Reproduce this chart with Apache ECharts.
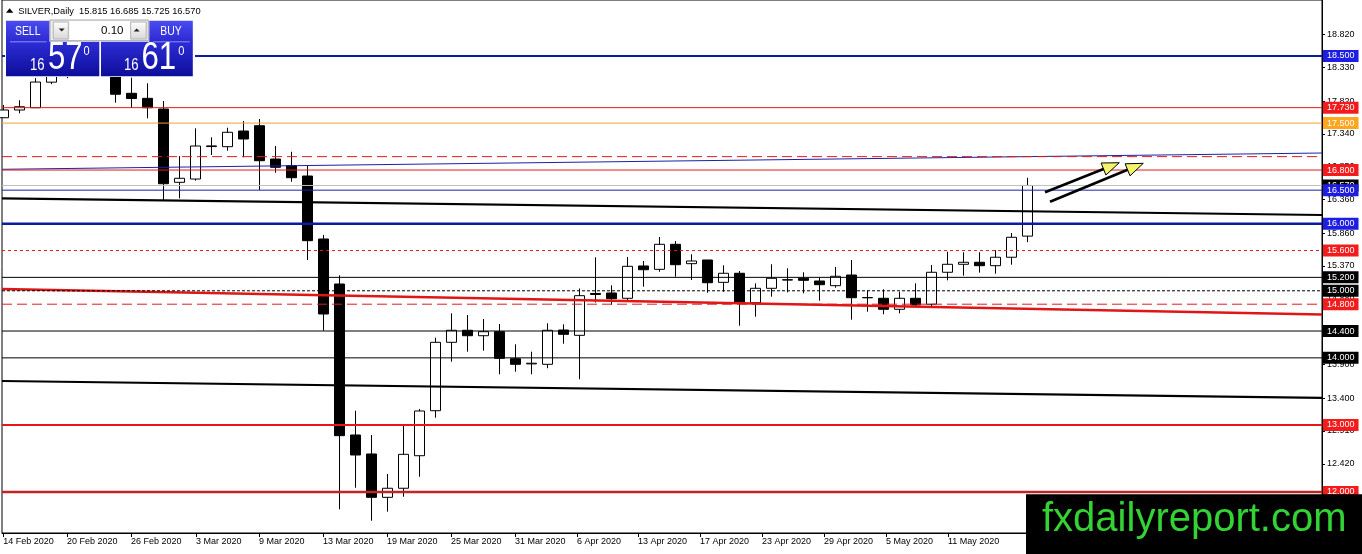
<!DOCTYPE html>
<html><head><meta charset="utf-8">
<script src="https://cdn.jsdelivr.net/npm/echarts@6/dist/echarts.min.js"></script>
<style>html,body{margin:0;padding:0;background:#fff}#c{width:1362px;height:554px}</style>
</head><body><div id="c"></div>
<script>
// ---------------- DATA ----------------
const opens  = [17.58,17.695,17.729,18.11,18.34,18.48,18.60,18.22,17.944,17.869,17.71,16.617,16.666,17.15,17.148,17.382,17.461,16.964,16.865,16.711,15.772,15.101,12.85,12.567,11.921,12.056,12.541,13.212,14.232,14.411,14.33,14.39,13.987,13.91,13.904,14.415,14.336,14.96,14.967,14.888,15.37,15.32,15.693,15.404,15.459,15.126,15.261,14.822,15.037,15.165,15.186,15.146,15.076,15.235,14.90,14.888,14.724,14.888,14.80,15.276,15.395,15.425,15.374,15.50,15.815];
const highs  = [17.77,17.84,18.17,18.42,18.58,18.72,18.66,18.32,18.177,18.093,17.829,17.009,17.422,17.288,17.431,17.531,17.561,17.158,17.073,16.865,15.832,15.231,13.212,12.85,12.269,12.989,13.238,14.301,14.664,14.639,14.579,14.505,14.202,14.092,14.515,14.5,15.034,15.499,15.082,15.504,15.444,15.802,15.742,15.544,15.46,15.38,15.295,15.111,15.395,15.335,15.276,15.195,15.355,15.459,15.007,15.022,14.986,15.111,15.384,15.583,15.574,15.574,15.604,15.861,16.685];
const lows   = [17.575,17.646,17.725,18.08,18.17,18.40,18.25,17.804,17.729,17.571,16.353,16.379,16.641,17.024,17.088,16.99,16.502,16.76,16.626,15.459,14.405,11.742,12.064,11.572,11.707,11.93,12.228,13.108,13.943,14.092,14.107,13.755,13.794,13.755,13.845,14.211,13.68,14.826,14.788,14.863,15.061,15.284,15.21,15.161,14.971,14.986,14.48,14.614,14.912,14.977,14.962,14.852,15.046,14.569,14.688,14.65,14.664,14.763,14.763,15.156,15.225,15.27,15.255,15.389,15.725];
const closes = [17.695,17.744,18.112,18.34,18.48,18.62,18.30,17.93,17.866,17.729,16.596,16.677,17.158,17.16,17.363,17.263,16.939,16.841,16.686,15.747,14.654,12.84,12.552,11.921,12.056,12.562,13.208,14.232,14.411,14.33,14.39,13.993,13.904,13.92,14.411,14.351,14.927,14.945,14.882,15.365,15.314,15.693,15.389,15.444,15.12,15.261,14.822,15.037,15.186,15.16,15.156,15.091,15.216,14.897,14.895,14.724,14.888,14.788,15.276,15.395,15.425,15.374,15.50,15.798,16.570];

const dateTickPos = [0,3.98,7.98,12.04,15.98,19.98,23.98,27.98,31.98,35.86,39.67,43.54,47.42,51.29,55.17,59.04];
const dateTickLabels = ['14 Feb 2020','20 Feb 2020','26 Feb 2020','3 Mar 2020','9 Mar 2020','13 Mar 2020','19 Mar 2020','25 Mar 2020','31 Mar 2020','6 Apr 2020','13 Apr 2020','17 Apr 2020','23 Apr 2020','29 Apr 2020','5 May 2020','11 May 2020'];
const priceTicks = [18.82,18.33,17.82,17.34,16.85,16.36,15.86,15.37,14.88,14.39,13.90,13.40,12.91,12.42,11.93];

const levelValues = [18.5,17.73,17.5,17.0,16.8,16.57,16.5,16.0,15.6,15.2,15.0,14.8,14.4,14.0,13.0,12.0];
const trendStart = [16.811,16.379,15.027,13.655];
const trendEnd   = [17.054,16.130,14.646,13.402];
const arrowFrom = [[65.11,16.468],[65.42,16.328]];
const arrowTo   = [[69.75,16.909],[71.25,16.900]];

const symbolName = 'SILVER,Daily';
const lotText = '0.10';
const sellBig = ['16','57','0'];
const buyBig  = ['16','61','0'];
const watermark = 'fxdailyreport.com';

// ---------------- STYLE / LAYOUT ----------------
const FONT = "'Liberation Sans', Arial, sans-serif";
const X_MIN = -0.081, X_MAX = 82.419, Y_MIN = 11.389, Y_MAX = 19.335;
const RED = '#e21b1b', BLUE = '#0c1aa6', LBLUE = '#1e1ee2', LRED = '#f21c1c';
const levelStyles = [
  {c:BLUE, w:2, t:'solid', bg:LBLUE},
  {c:RED, w:1, t:'solid', bg:LRED},
  {c:'#eea231', w:1, t:'solid', bg:'#ffa51e'},
  {c:RED, w:1, t:[10,5], bg:null},
  {c:RED, w:1, t:'solid', bg:LRED},
  {c:'#c0c0c0', w:1, t:'solid', bg:'#000'},
  {c:'#1a24aa', w:1, t:'solid', bg:LBLUE},
  {c:BLUE, w:2.5, t:'solid', bg:LBLUE},
  {c:RED, w:1, t:[3,3], bg:LRED},
  {c:'#000', w:1, t:'solid', bg:'#000'},
  {c:'#000', w:1, t:[3,2], bg:'#000'},
  {c:RED, w:1, t:[10,5], bg:LRED},
  {c:'#000', w:1, t:'solid', bg:'#000'},
  {c:'#000', w:1, t:'solid', bg:'#000'},
  {c:'#e81616', w:2, t:'solid', bg:LRED},
  {c:'#c22424', w:2.5, t:'solid', bg:LRED}
];
const trendStyles = [
  {c:'#1a22a8', w:1},
  {c:'#000', w:2.2},
  {c:'#e01616', w:2.5},
  {c:'#000', w:2.2}
];

const candles = opens.map((o,i)=>[i, o, closes[i], lows[i], highs[i]]);

const chart = echarts.init(document.getElementById('c'), null, {renderer:'canvas'});

const series = [{
  type:'candlestick', data:candles, barWidth:10, z:2, silent:true, clip:true,
  itemStyle:{color:'#fff', color0:'#000', borderColor:'#000', borderColor0:'#000', borderColorDoji:'#000', borderWidth:1}
}];
trendStart.forEach((v,i)=>{
  series.push({type:'line', data:[[X_MIN, v],[X_MAX, trendEnd[i]]], showSymbol:false, symbol:'none', silent:true, z:3,
    lineStyle:{color:trendStyles[i].c, width:trendStyles[i].w}});
});
levelValues.forEach((v,i)=>{
  const s = levelStyles[i];
  series.push({type:'line', data:[[X_MIN, v],[X_MAX, v]], showSymbol:false, symbol:'none', silent:true, z:4, clip:false,
    color:s.c,
    lineStyle:{color:s.c, width:s.w, type:s.t},
    endLabel: s.bg ? {show:true, distance:1, formatter:v.toFixed(3), color:'#fff', backgroundColor:s.bg,
      padding:[1,4,0,4], fontSize:9, lineHeight:11, fontFamily:FONT} : {show:false},
    labelLayout:{hideOverlap:false}
  });
});

chart.setOption({
  animation:false,
  backgroundColor:'#fff',
  grid:{left:2, right:40, top:0, bottom:21, show:true, borderColor:'#000', borderWidth:1, backgroundColor:'transparent'},
  xAxis:{type:'value', min:X_MIN, max:X_MAX, splitLine:{show:false},
    axisLine:{show:true, onZero:false, lineStyle:{color:'#000', width:1}},
    axisTick:{show:true, customValues:dateTickPos, length:4, lineStyle:{color:'#000'}},
    axisLabel:{customValues:dateTickPos, align:'left', margin:4, fontSize:9, fontFamily:FONT, color:'#000',
      formatter:(val)=>{let b=0,d=1e9;dateTickPos.forEach((p,i)=>{if(Math.abs(p-val)<d){d=Math.abs(p-val);b=i;}});return dateTickLabels[b];}}
  },
  yAxis:{type:'value', position:'right', min:Y_MIN, max:Y_MAX, splitLine:{show:false},
    axisLine:{show:true, onZero:false, lineStyle:{color:'#000', width:1}},
    axisTick:{show:true, customValues:priceTicks, length:3, lineStyle:{color:'#000'}},
    axisLabel:{customValues:priceTicks, margin:5, fontSize:9, fontFamily:FONT, color:'#000', formatter:(v)=>v.toFixed(3)}
  },
  series
});

// ---------------- GRAPHIC OVERLAYS ----------------
function rect(x,y,w,h,fill,stroke,lw){return {type:'rect', z:100, silent:true, shape:{x,y,width:w,height:h}, style:{fill, stroke:stroke||null, lineWidth:lw||0}};}
function txt(x,y,s,size,fill,align,sx,font){return {type:'text', z:110, silent:true, x, y, scaleX:sx||1,
  style:{text:s, x:0, y:0, fill, font:size+'px '+(font||FONT), textAlign:align, align, textVerticalAlign:'middle', verticalAlign:'middle'}};}
function grad(a,b){return {type:'linear', x:0,y:0,x2:0,y2:1, colorStops:[{offset:0,color:a},{offset:1,color:b}]};}

const els = [];
// header
els.push({type:'polygon', z:110, silent:true, shape:{points:[[6,12.7],[13.3,12.7],[9.65,8.2]]}, style:{fill:'#000'}});
const o = opens.length-1;
els.push(txt(18.3, 11, symbolName+'  '+opens[o].toFixed(3)+' '+highs[o].toFixed(3)+' '+lows[o].toFixed(3)+' '+closes[o].toFixed(3), 9.3, '#000', 'left'));
// panel
els.push(rect(5,19,190,58,'#fff'));
els.push(rect(6,20.7,43.5,21.2,grad('#4b4bf2','#2a2ad0')));
els.push(rect(6,41.7,93.3,34.5,grad('#2d2dd6','#0d0d9a')));
els.push(rect(149.3,20.7,43.5,21.2,grad('#4b4bf2','#2a2ad0')));
els.push(rect(101,41.7,91.8,34.5,grad('#2d2dd6','#0d0d9a')));
els.push({type:'line', z:105, silent:true, shape:{x1:10,y1:41.8,x2:46.7,y2:41.8}, style:{stroke:'#8e8ef2', lineWidth:1}});
els.push({type:'line', z:105, silent:true, shape:{x1:153,y1:41.8,x2:189.7,y2:41.8}, style:{stroke:'#8e8ef2', lineWidth:1}});
els.push(txt(27.7,31,'SELL',13,'#fff','center',0.8));
els.push(txt(171,31,'BUY',13,'#fff','center',0.8));
// lot selector
els.push(rect(50,20,98.3,20.7,'#ececec','#a8a8a8',1));
els.push(rect(53.3,22,15,17,grad('#fefefe','#d8d8d8'),'#b4b4b4',1));
els.push(rect(130.7,22,15.5,17,grad('#fefefe','#d8d8d8'),'#b4b4b4',1));
els.push(rect(69.5,21,60.5,19,'#fff'));
els.push({type:'polygon', z:110, silent:true, shape:{points:[[58.7,28.5],[64.7,28.5],[61.7,31.5]]}, style:{fill:'#222'}});
els.push({type:'polygon', z:110, silent:true, shape:{points:[[133.7,31.5],[139.7,31.5],[136.7,28.5]]}, style:{fill:'#222'}});
els.push(txt(123.5,31,lotText,11.5,'#000','right'));
// prices
els.push(txt(30,65.8,sellBig[0],16,'#fff','left',0.82));
els.push(txt(48,58.8,sellBig[1],38,'#fff','left',0.82));
els.push(txt(83.5,51.4,sellBig[2],13,'#fff','left',0.85));
els.push(txt(124,65.8,buyBig[0],16,'#fff','left',0.82));
els.push(txt(141.5,58.8,buyBig[1],38,'#fff','left',0.82));
els.push(txt(178.2,51.4,buyBig[2],13,'#fff','left',0.85));
// arrows
arrowFrom.forEach((f,i)=>{
  const p0 = chart.convertToPixel({gridIndex:0}, f);
  const p1 = chart.convertToPixel({gridIndex:0}, arrowTo[i]);
  const dx=p1[0]-p0[0], dy=p1[1]-p0[1], L=Math.hypot(dx,dy), ux=dx/L, uy=dy/L;
  const hl=17, hw=6.5;
  const bx=p1[0]-ux*hl, by=p1[1]-uy*hl;
  els.push({type:'line', z:90, silent:true, shape:{x1:p0[0],y1:p0[1],x2:bx+ux*2,y2:by+uy*2}, style:{stroke:'#000', lineWidth:2.6}});
  els.push({type:'polygon', z:91, silent:true, shape:{points:[[p1[0],p1[1]],[bx-uy*hw,by+ux*hw],[bx+uy*hw,by-ux*hw]]}, style:{fill:'#f4f46a', stroke:'#000', lineWidth:1}});
});
// watermark
els.push(rect(1026,494.3,336,60,'#000'));
els.push(txt(1042,520,watermark,40,'#33d333','left',1));

chart.setOption({graphic:{elements:els}});
</script>
</body></html>
